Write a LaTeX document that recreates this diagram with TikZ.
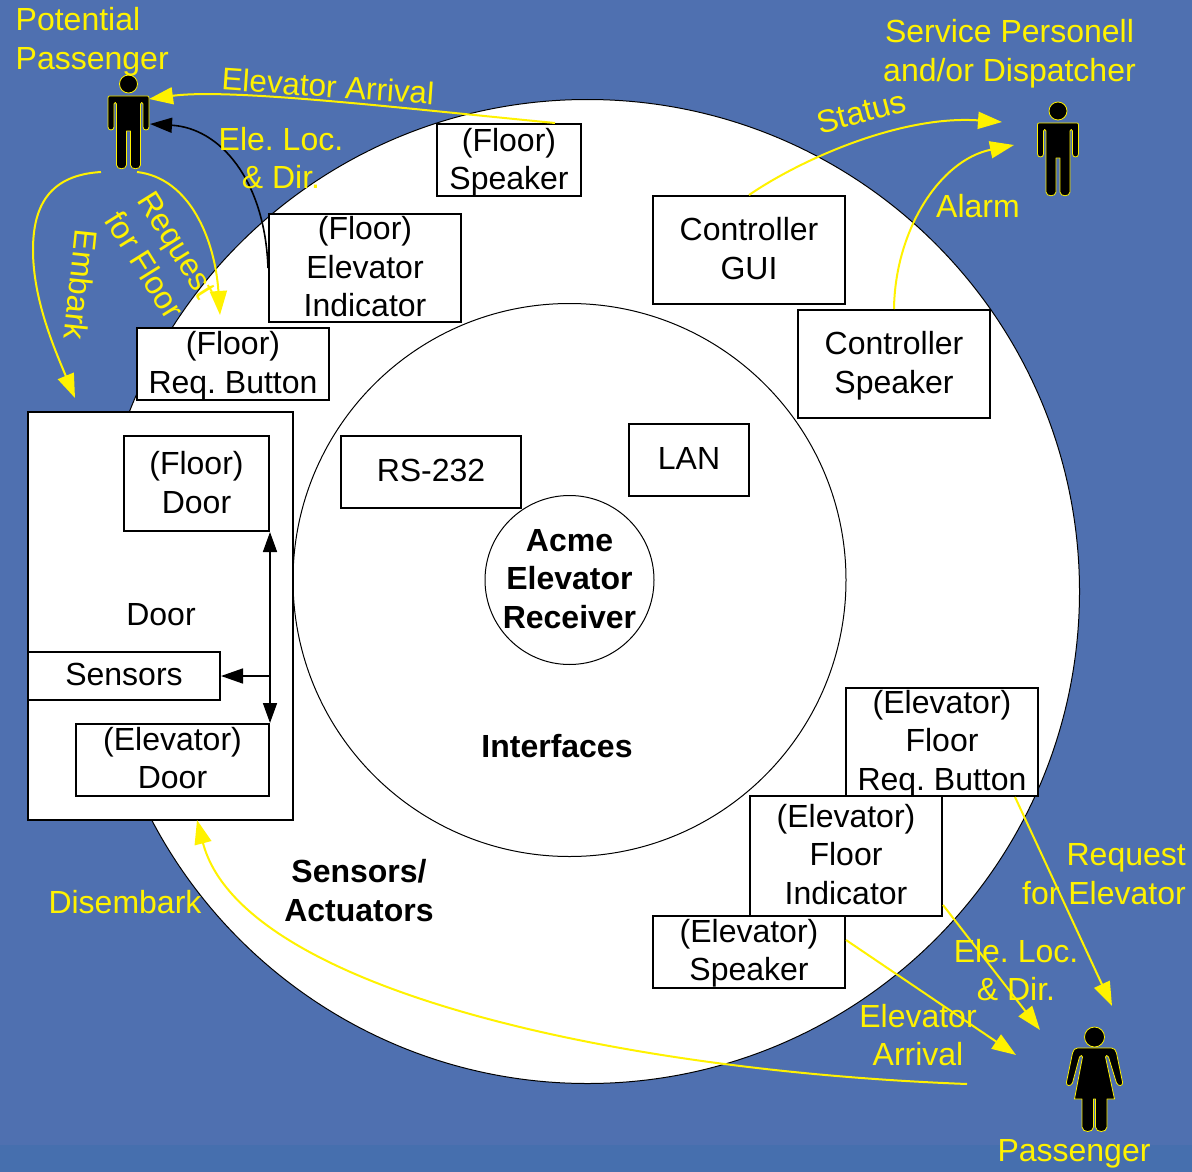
\documentclass[tikz,border=0pt]{standalone}
\usepackage{fontspec}
\setmainfont{Liberation Sans}
\usetikzlibrary{arrows.meta}
\frenchspacing
\definecolor{slide}{HTML}{4F70B0}
\definecolor{band}{HTML}{466FAE}
\newcommand{\bt}[2]{\raisebox{\dimexpr-9.9pt-#1pt\relax}[0pt][0pt]{\begin{tabular}[c]{@{}c@{}}#2\end{tabular}}}
\tikzset{
  lbl/.style={inner sep=0pt,align=center,font=\fontsize{32}{38.5}\selectfont},
  ylbl/.style={lbl,text=yellow},
  blbl/.style={lbl,font=\fontsize{32}{38.5}\selectfont\bfseries},
  boxn/.style={draw=black,line width=2pt,fill=white,inner sep=0pt,font=\fontsize{32}{38.5}\selectfont},
  ring/.style={circle,draw=black,line width=1pt,fill=white,inner sep=0pt},
  yarrow/.style={draw=yellow,line width=2pt,-{Triangle[length=24pt,width=17pt,fill=yellow]}},
  barrow/.style={draw=black,line width=1.6pt,-{Triangle[length=22pt,width=15pt,fill=black]}},
  figure/.style={fill=black,draw=yellow,line width=0.8pt,line join=round},
  man/.pic={
    \path[figure] (0,-45) circle (9);
    \path[figure] (-19,-33) -- (19,-33) .. controls (20,-33) and (20.5,-32.5) .. (20.5,-31)
      -- (20.5,-2) .. controls (20.5,2) and (14.5,2) .. (14.5,-2) -- (14.5,-25) .. controls (14.5,-27) and (12,-27) .. (12,-25)
      -- (12,36) .. controls (12,41) and (2,41) .. (2,36) -- (2,2) -- (-2,2) -- (-2,36)
      .. controls (-2,41) and (-12,41) .. (-12,36) -- (-12,-25) .. controls (-12,-27) and (-14.5,-27) .. (-14.5,-25)
      -- (-14.5,-2) .. controls (-14.5,2) and (-20.5,2) .. (-20.5,-2) -- (-20.5,-31)
      .. controls (-20.5,-32.5) and (-20,-33) .. (-19,-33) -- cycle;
  },
  woman/.pic={
    \path[figure] (0,-48) circle (10);
    \path[figure] (-17,-37) -- (17,-37) .. controls (20,-37) and (21,-35) .. (22,-32)
      -- (28,-3) .. controls (29,1) and (24,2) .. (22,-2) -- (14,-28) .. controls (13,-30) and (11,-30) .. (11,-28)
      -- (20,14) -- (12.5,14) -- (12.5,42) .. controls (12.5,48) and (1,48) .. (1,42) -- (1,14) -- (-1,14)
      -- (-1,42) .. controls (-1,48) and (-12.5,48) .. (-12.5,42) -- (-12.5,14) -- (-20,14)
      -- (-12,-28) .. controls (-12,-30) and (-14,-30) .. (-15,-28) -- (-22,-2) .. controls (-24,2) and (-29,1) .. (-28,-3)
      -- (-22,-32) .. controls (-21,-35) and (-20,-37) .. (-17,-37) -- cycle;
  }
}
\begin{document}
\begin{tikzpicture}[x=1pt,y=-1pt]
\useasboundingbox (0,0) rectangle (1192,1172);
\fill[slide] (0,0) rectangle (1192,1172);
\fill[band] (0,1145) rectangle (1192,1172);
% rings
\node[ring,minimum size=984pt] (outer) at (587.5,591.5) {};
\node[ring,minimum size=553pt] (inner) at (569.5,580) {};
\node[ring,minimum size=169pt] (core) at (569.5,580) {};
% figures
\pic at (128.5,129) {man};
\pic at (1058,156) {man};
\pic at (1094.5,1085) {woman};
% free ends
\coordinate (potReq) at (137,172);
\coordinate (potEmb) at (101,172);
\coordinate (potArr) at (149,99);
\coordinate (potLoc) at (150,124);
\coordinate (svcSta) at (1002,122);
\coordinate (svcAla) at (1014,145);
\coordinate (paxReq) at (1112,1006);
\coordinate (paxLoc) at (1040,1030);
\coordinate (paxArr) at (1016,1055);
\coordinate (paxDis) at (967,1084);
\coordinate (doorTip) at (197,820);
% door group
\node[boxn,minimum width=265pt,minimum height=408pt] (door) at (160.5,616) {};
\node[lbl] (doorl) at (161,615) {Door};
\node[boxn,minimum width=145pt,minimum height=95pt] (fdoor) at (196.5,483.5) {\bt{-1}{(Floor)\\Door}};
\node[boxn,minimum width=192pt,minimum height=48pt] (sens) at (124,676) {\bt{-2}{Sensors}};
\node[boxn,minimum width=193pt,minimum height=72pt] (edoor) at (172.5,760) {\bt{-2}{(Elevator)\\Door}};
% boxes
\node[boxn,minimum width=144pt,minimum height=72pt] (fspk) at (509,160) {\bt{-1}{(Floor)\\Speaker}};
\node[boxn,minimum width=192pt,minimum height=108pt] (find) at (365,268) {\bt{-1.3}{(Floor)\\Elevator\\Indicator}};
\node[boxn,minimum width=192pt,minimum height=72pt] (fbtn) at (233,364) {\bt{-1.5}{(Floor)\\Req. Button}};
\node[boxn,minimum width=192pt,minimum height=108pt] (cgui) at (749,250) {\bt{-1.5}{Controller\\GUI}};
\node[boxn,minimum width=192pt,minimum height=108pt] (cspk) at (894,364) {\bt{-1.5}{Controller\\Speaker}};
\node[boxn,minimum width=180pt,minimum height=72pt] (rs) at (431,472) {\bt{-2}{RS-232}};
\node[boxn,minimum width=120pt,minimum height=72pt] (lan) at (689,460) {\bt{-2}{LAN}};
\node[boxn,minimum width=192pt,minimum height=108pt] (ebtn) at (942,742) {\bt{-1.5}{(Elevator)\\Floor\\Req. Button}};
\node[boxn,minimum width=192pt,minimum height=120pt] (eind) at (846,856) {\bt{-1.7}{(Elevator)\\Floor\\Indicator}};
\node[boxn,minimum width=192pt,minimum height=72pt] (espk) at (749,952) {\bt{-2}{(Elevator)\\Speaker}};
% inner connectors
\draw[draw=black,line width=1.6pt,{Triangle[length=20pt,width=14pt,fill=black]}-{Triangle[length=20pt,width=14pt,fill=black]}] (fdoor.south east) -- (edoor.north east);
\coordinate (dtap) at (edoor.north east |- sens.east);
\draw[barrow] (dtap) -- (sens.east);
% connectors
\draw[yarrow] ([xshift=-27pt]fspk.north east) .. controls (400,108) and (230,88) .. (potArr);
\draw[barrow] (find.west) .. controls (265,180) and (220,128) .. (potLoc);
\draw[yarrow] (potEmb) .. controls (50,175) and (33,205) .. (33,250) .. controls (33,300) and (55,350) .. (75,398);
\draw[yarrow] (potReq) .. controls (190,178) and (215,240) .. (220,315);
\draw[yarrow] (cgui.north) .. controls (800,160) and (900,115) .. (svcSta);
\draw[yarrow] (cspk.north) .. controls (895,230) and (940,160) .. (svcAla);
\draw[yarrow] ([xshift=-24pt]ebtn.south east) -- (paxReq);
\draw[yarrow] ([yshift=12pt]eind.south east) -- (paxLoc);
\draw[yarrow] ([yshift=12pt]espk.east) -- (paxArr);
\draw[yarrow] (paxDis) .. controls (600,1070) and (240,985) .. (doorTip);
% labels
\node[blbl] (acme) at (569.5,579) {Acme\\Elevator\\Receiver};
\node[blbl] (intf) at (557,746) {Interfaces};
\node[blbl] (sa) at (359,890.5) {Sensors/\\Actuators};
\node[ylbl,align=left,anchor=west] (pot) at (15.5,41.5) {Potential\\Passenger};
\node[ylbl] (svc) at (1009.5,53.5) {Service Personell\\and/or Dispatcher};
\node[ylbl,rotate=-4,font=\fontsize{31.4}{38.5}\selectfont] (arr1) at (328,86) {Elevator Arrival};
\node[ylbl] (loc1) at (281,158) {Ele. Loc.\\\& Dir.};
\node[ylbl,rotate=-58] (req1) at (161,255) {Request\\for Floor};
\node[ylbl,rotate=-96] (emb) at (81,285) {Embark};
\node[ylbl,rotate=15] (sta) at (861,112) {Status};
\node[ylbl] (ala) at (978,206) {Alarm};
\node[ylbl] (dis) at (125,902) {Disembark};
\node[ylbl,align=right,anchor=east] (req2) at (1186,874) {Request\\for Elevator};
\node[ylbl] (loc2) at (1016,970) {Ele. Loc.\\\& Dir.};
\node[ylbl] (arr2) at (918,1035) {Elevator\\Arrival};
\node[ylbl] (pax) at (1074,1154) {Passenger};
\end{tikzpicture}
\end{document}
